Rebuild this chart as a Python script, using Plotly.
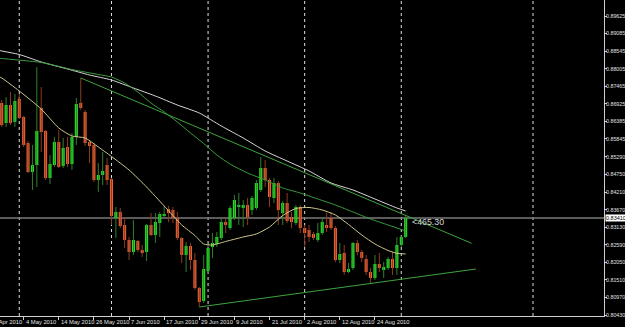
import plotly.graph_objects as go

# ---------------- data ----------------
bar_index = list(range(93))

opens = [0.86950, 0.86335, 0.86888, 0.86366, 0.87073, 0.86519, 0.85720, 0.84828, 0.85043, 0.86796,
         0.86089, 0.84644, 0.85043, 0.85751, 0.85013, 0.85597, 0.85074, 0.85904, 0.86950, 0.86673,
         0.85751, 0.85659, 0.84582, 0.84736, 0.85043, 0.84613, 0.83414, 0.83598, 0.83199, 0.82737,
         0.82368, 0.82707, 0.82430, 0.82368, 0.83199, 0.82891, 0.83260, 0.83475, 0.83690, 0.83660,
         0.83414, 0.82799, 0.82276, 0.82553, 0.82122, 0.81261, 0.80861, 0.81784, 0.82522, 0.82614,
         0.82799, 0.83291, 0.83106, 0.83414, 0.83752, 0.83721, 0.83813, 0.83660, 0.83721, 0.84275,
         0.84951, 0.84582, 0.84029, 0.84490, 0.83567, 0.83875, 0.83444, 0.83260, 0.83752, 0.83106,
         0.83045, 0.82922, 0.82737, 0.82952, 0.83199, 0.83414, 0.83106, 0.82122, 0.82338, 0.81753,
         0.81876, 0.82645, 0.82368, 0.82153, 0.81753, 0.81569, 0.81999, 0.81815, 0.81876, 0.82153,
         0.81876, 0.82584, 0.82830]

highs = [0.87042, 0.87134, 0.87288, 0.87227, 0.87227, 0.86550, 0.85781, 0.85659, 0.88057, 0.87442,
         0.86119, 0.85351, 0.85904, 0.86119, 0.85874, 0.85904, 0.86027, 0.87104, 0.87719, 0.86735,
         0.85812, 0.85720, 0.85105, 0.85443, 0.85259, 0.84644, 0.83752, 0.83721, 0.83414, 0.82830,
         0.83352, 0.82737, 0.82584, 0.83229, 0.83567, 0.83567, 0.83598, 0.83783, 0.83783, 0.83752,
         0.83598, 0.82830, 0.82676, 0.82645, 0.82338, 0.81292, 0.82276, 0.82614, 0.82952, 0.82983,
         0.83414, 0.83414, 0.83783, 0.84121, 0.84182, 0.83967, 0.84029, 0.84090, 0.84582, 0.85289,
         0.85197, 0.84644, 0.84644, 0.84551, 0.83936, 0.84182, 0.83598, 0.83813, 0.83813, 0.83199,
         0.83199, 0.82983, 0.83260, 0.83414, 0.83567, 0.83598, 0.83168, 0.82645, 0.82584, 0.82030,
         0.82676, 0.82737, 0.82430, 0.82276, 0.81876, 0.82276, 0.82338, 0.82061, 0.82215, 0.82368,
         0.82830, 0.82860, 0.83506]

lows = [0.86212, 0.86212, 0.86273, 0.86212, 0.86458, 0.85597, 0.84797, 0.84275, 0.84367, 0.85443,
        0.84582, 0.84459, 0.84982, 0.84951, 0.84951, 0.84982, 0.84890, 0.85659, 0.86735, 0.85628,
        0.85105, 0.84521, 0.84213, 0.84428, 0.84428, 0.83199, 0.82799, 0.83106, 0.82491, 0.82122,
        0.82276, 0.82368, 0.82215, 0.82092, 0.82860, 0.82645, 0.82830, 0.83414, 0.83291, 0.83260,
        0.82737, 0.82030, 0.81753, 0.81815, 0.81200, 0.80677, 0.80800, 0.81722, 0.82184, 0.82522,
        0.82737, 0.82952, 0.83045, 0.83352, 0.83199, 0.83137, 0.83199, 0.83506, 0.83660, 0.84213,
        0.84367, 0.83752, 0.83875, 0.83199, 0.83199, 0.83260, 0.83106, 0.83199, 0.82952, 0.82522,
        0.82676, 0.82737, 0.82676, 0.82891, 0.82983, 0.83045, 0.82061, 0.82030, 0.81661, 0.81722,
        0.81815, 0.82276, 0.82061, 0.81661, 0.81415, 0.81507, 0.81753, 0.81569, 0.81815, 0.81661,
        0.81661, 0.82522, 0.82799]

closes = [0.86273, 0.86888, 0.86335, 0.87011, 0.86489, 0.85659, 0.84828, 0.85043, 0.86089, 0.86058,
          0.84644, 0.85074, 0.85751, 0.84982, 0.85566, 0.85074, 0.85904, 0.86919, 0.86796, 0.85720,
          0.85628, 0.84582, 0.84736, 0.84859, 0.84582, 0.83475, 0.83598, 0.83168, 0.82737, 0.82368,
          0.82737, 0.82430, 0.82338, 0.83199, 0.82891, 0.83291, 0.83537, 0.83506, 0.83567, 0.83414,
          0.82799, 0.82276, 0.82553, 0.82122, 0.81261, 0.80831, 0.81845, 0.82491, 0.82645, 0.82830,
          0.83291, 0.83199, 0.83721, 0.83967, 0.83783, 0.83813, 0.83444, 0.84029, 0.84490, 0.84951,
          0.84582, 0.84060, 0.84490, 0.83660, 0.83875, 0.83321, 0.83291, 0.83752, 0.83106, 0.82952,
          0.82830, 0.82799, 0.82952, 0.83291, 0.83106, 0.83106, 0.82122, 0.82307, 0.81753, 0.81845,
          0.82645, 0.82368, 0.82184, 0.81753, 0.81569, 0.81999, 0.81876, 0.81907, 0.82153, 0.81876,
          0.82584, 0.82830, 0.83410]

# moving averages (sampled readings)
ma_fast_k = [-1, 0, 4, 9, 13, 16, 19, 22, 25, 29, 33, 37, 41, 44, 46, 48, 51, 55, 58, 61,
             64, 67, 70, 73, 76, 79, 82, 85, 88, 90, 92]
ma_fast_v = [0.87780, 0.87719, 0.87319, 0.86765, 0.86181, 0.85935, 0.85874, 0.85597, 0.85305, 0.84890,
             0.84367, 0.83783, 0.83199, 0.82876, 0.82614, 0.82584, 0.82691, 0.82830, 0.82922, 0.83137,
             0.83490, 0.83706, 0.83737, 0.83660, 0.83506, 0.83214, 0.82891, 0.82614, 0.82414, 0.82328,
             0.82307]

ma_mid_k = [-1, 0, 9, 16, 22, 25, 28, 31, 34, 37, 40, 43, 46, 49, 52, 56, 60, 64, 68, 72,
            76, 80, 84, 88, 92]
ma_mid_v = [0.88333, 0.88318, 0.88195, 0.87980, 0.87826, 0.87749, 0.87565, 0.87288, 0.86950, 0.86673,
            0.86366, 0.86027, 0.85704, 0.85351, 0.85074, 0.84797, 0.84582, 0.84336, 0.84182, 0.83998,
            0.83813, 0.83598, 0.83383, 0.83199, 0.83014]

ma_slow_k = [-1, 0, 4, 9, 15, 20, 25, 30, 35, 40, 45, 50, 55, 60, 65, 70, 75, 80, 85, 90, 92]
ma_slow_v = [0.88580, 0.88549, 0.88441, 0.88211, 0.87995, 0.87811, 0.87657, 0.87411, 0.87165, 0.86888,
             0.86642, 0.86243, 0.85874, 0.85474, 0.85166, 0.84859, 0.84490, 0.84275, 0.83998, 0.83721,
             0.83629]

# trend lines
upper_trend_k = [18, 107]
upper_trend_v = [0.87719, 0.82636]
lower_trend_k = [45, 108]
lower_trend_v = [0.80677, 0.81845]

# axis labels
date_k = [-3, 5, 13, 21, 29, 37, 45, 53, 61, 69, 77, 85]
date_labels = ["22 Apr 2010", "4 May 2010", "14 May 2010", "26 May 2010", "7 Jun 2010", "17 Jun 2010",
               "29 Jun 2010", "9 Jul 2010", "21 Jul 2010", "2 Aug 2010", "12 Aug 2010", "24 Aug 2010"]
month_sep_k = [4, 25, 47, 69, 91, 121]
price_ticks = [0.89625, 0.89085, 0.88545, 0.88005, 0.87465, 0.86925, 0.86385, 0.85845, 0.85290,
               0.84750, 0.84210, 0.83670, 0.83130, 0.82590, 0.82050, 0.81510, 0.80970, 0.80430]
current_price = 0.83410
distance_label = "<465.30"

# ---------------- styles ----------------
UP = "#22e622"
DOWN = "#ec6230"
UP_WICK = "#2f7f2f"
DOWN_WICK = "#8e3a22"
AX = "#d0d0d0"
FONT = "Liberation Sans"
X_RANGE = [-0.387, 137.17]

fig = go.Figure()

# wicks
for up in (True, False):
    xs, ys = [], []
    for k, o, h, l, c in zip(bar_index, opens, highs, lows, closes):
        if (c >= o) == up:
            xs += [k, k, None]
            ys += [l, h, None]
    fig.add_trace(go.Scatter(x=xs, y=ys, mode="lines",
                             line=dict(color=UP_WICK if up else DOWN_WICK, width=1),
                             hoverinfo="skip", showlegend=False))

# bodies
base = [min(o, c) for o, c in zip(opens, closes)]
height = [max(abs(c - o), 0.00025) for o, c in zip(opens, closes)]
colors = [UP if c >= o else DOWN for o, c in zip(opens, closes)]
fig.add_trace(go.Bar(x=bar_index, y=height, base=base, width=0.7,
                     marker=dict(color=colors, line=dict(width=0)),
                     hoverinfo="skip", showlegend=False))

# moving averages
fig.add_trace(go.Scatter(x=ma_slow_k, y=ma_slow_v, mode="lines",
                         line=dict(color="#d8d8d8", width=1, shape="spline", smoothing=0.6),
                         hoverinfo="skip", showlegend=False))
fig.add_trace(go.Scatter(x=ma_mid_k, y=ma_mid_v, mode="lines",
                         line=dict(color="#3c9c3c", width=1, shape="spline", smoothing=0.6),
                         hoverinfo="skip", showlegend=False))
fig.add_trace(go.Scatter(x=ma_fast_k, y=ma_fast_v, mode="lines",
                         line=dict(color="#cfc78a", width=1, shape="spline", smoothing=0.6),
                         hoverinfo="skip", showlegend=False))
# trend lines
fig.add_trace(go.Scatter(x=upper_trend_k, y=upper_trend_v, mode="lines",
                         line=dict(color="#3fa33f", width=1), hoverinfo="skip", showlegend=False))
fig.add_trace(go.Scatter(x=lower_trend_k, y=lower_trend_v, mode="lines",
                         line=dict(color="#3fa33f", width=1), hoverinfo="skip", showlegend=False))

# month separators
for k in month_sep_k:
    fig.add_shape(type="line", xref="x", yref="paper", x0=k, x1=k, y0=0, y1=1,
                  line=dict(color="#e0e0e0", width=1, dash="dot"), layer="below")
# bid line
fig.add_shape(type="line", xref="paper", yref="y", x0=0, x1=1, y0=current_price, y1=current_price,
              line=dict(color="#7a7a7a", width=1.5), layer="below")

# date labels (left-aligned right of their tick, MetaTrader style)
span = X_RANGE[1] - X_RANGE[0]
for k, lab in zip(date_k, date_labels):
    fig.add_annotation(x=(k - X_RANGE[0]) / span, xref="paper", y=0, yref="paper", text=lab,
                       showarrow=False, xanchor="left", yanchor="top", yshift=-1,
                       font=dict(family=FONT, size=5.8, color="#e0e0e0"))

fig.add_annotation(xref="paper", x=1, y=current_price, yref="y", text=f"{current_price:.5f}",
                   xanchor="left", yanchor="middle", showarrow=False, xshift=1,
                   font=dict(family=FONT, size=5.5, color="#000000"), bgcolor="#ffffff",
                   borderpad=0)
fig.add_annotation(x=93.0, y=0.83291, text=distance_label, xanchor="left", yanchor="middle",
                   showarrow=False, font=dict(family=FONT, size=8.8, color="#d8d8d8"))

fig.update_layout(
    width=625, height=327,
    margin=dict(l=0, r=21, t=0, b=11, autoexpand=False),
    paper_bgcolor="#000000", plot_bgcolor="#000000",
    showlegend=False, barmode="overlay",
    xaxis=dict(range=X_RANGE, showgrid=False, zeroline=False, automargin=False,
               showline=True, linecolor=AX, linewidth=1,
               tickmode="array", tickvals=date_k, showticklabels=False,
               ticks="outside", ticklen=3, tickcolor=AX),
    yaxis=dict(range=[0.80400, 0.90117], side="right", showgrid=False, zeroline=False,
               automargin=False,
               showline=True, linecolor=AX, linewidth=1,
               tickmode="array", tickvals=price_ticks,
               ticktext=[f"{v:.5f}" for v in price_ticks],
               ticks="outside", ticklen=2, tickcolor=AX, ticklabelstandoff=-2,
               tickfont=dict(family=FONT, size=5.3, color="#e0e0e0")),
)

fig.write_html("out.html")
